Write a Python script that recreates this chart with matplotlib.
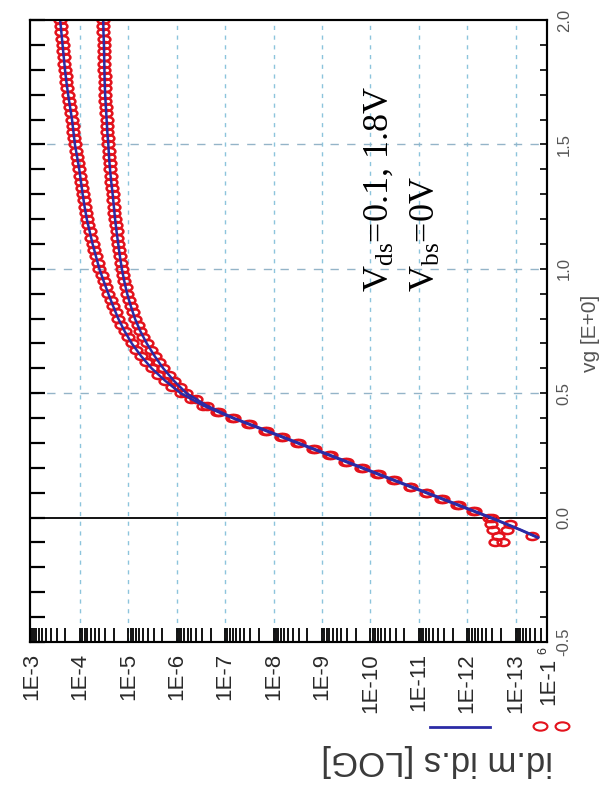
import matplotlib.pyplot as plt
import numpy as np
from matplotlib.lines import Line2D
from matplotlib.markers import MarkerStyle
from matplotlib.path import Path
from matplotlib.ticker import FixedLocator, FuncFormatter, MultipleLocator, NullFormatter
from matplotlib.transforms import Affine2D

W, H = 603, 787

# gate sweep of the measurement, V
vg_meas = np.round(np.arange(-0.1, 2.0001, 0.025), 3)

# measured log10(Id) at Vds = 1.8 V
logid_meas_18 = [
    -12.58, -12.64, -12.53, -12.49, -12.45, -12.13, -11.80, -11.47, -11.14, -10.81,
    -10.47, -10.14, -9.81, -9.48, -9.15, -8.81, -8.48, -8.15, -7.82, -7.48,
    -7.15, -6.84, -6.55, -6.30, -6.08, -5.91, -5.76, -5.61, -5.48, -5.37,
    -5.26, -5.16, -5.07, -4.99, -4.92, -4.85, -4.79, -4.735, -4.685, -4.635,
    -4.585, -4.54, -4.49, -4.445, -4.40, -4.365, -4.33, -4.295, -4.26, -4.23,
    -4.20, -4.17, -4.14, -4.117, -4.095, -4.075, -4.055, -4.037, -4.02, -4.002,
    -3.985, -3.962, -3.94, -3.917, -3.895, -3.88, -3.865, -3.85, -3.835, -3.815,
    -3.795, -3.775, -3.755, -3.737, -3.72, -3.705, -3.69, -3.677, -3.665, -3.652,
    -3.64, -3.627, -3.615, -3.602, -3.59,
]

# measured log10(Id) at Vds = 0.1 V
logid_meas_01 = [
    -12.74, -13.33, -12.82, -12.88, -12.52, -12.17, -11.84, -11.51, -11.18, -10.84,
    -10.51, -10.18, -9.85, -9.52, -9.19, -8.85, -8.52, -8.19, -7.86, -7.52,
    -7.18, -6.88, -6.62, -6.39, -6.20, -6.06, -5.94, -5.83, -5.72, -5.63,
    -5.54, -5.46, -5.38, -5.31, -5.245, -5.19, -5.135, -5.09, -5.05, -5.01,
    -4.975, -4.945, -4.915, -4.89, -4.865, -4.845, -4.825, -4.807, -4.79, -4.772,
    -4.755, -4.74, -4.725, -4.712, -4.70, -4.687, -4.675, -4.66, -4.645, -4.632,
    -4.62, -4.61, -4.60, -4.592, -4.585, -4.575, -4.565, -4.557, -4.55, -4.542,
    -4.535, -4.527, -4.52, -4.515, -4.51, -4.507, -4.505, -4.502, -4.50, -4.497,
    -4.495, -4.49, -4.485, -4.482, -4.48,
]

# model curves
vg_sim = [-0.08, -0.05, 0.0, 0.05, 0.1, 0.15, 0.2, 0.25, 0.3, 0.35, 0.4, 0.45, 0.5,
          0.55, 0.6, 0.65, 0.7, 0.75, 0.8, 0.85, 0.9, 0.95, 1.0, 1.05, 1.1, 1.15,
          1.2, 1.25, 1.3, 1.35, 1.4, 1.45, 1.5, 1.55, 1.6, 1.65, 1.7, 1.75, 1.8,
          1.85, 1.9, 1.95, 2.0]
logid_sim_18 = [-13.45, -13.10, -12.47, -11.80, -11.14, -10.47, -9.81, -9.15, -8.48,
                -7.82, -7.15, -6.55, -6.08, -5.76, -5.48, -5.26, -5.07, -4.92, -4.79,
                -4.685, -4.585, -4.49, -4.40, -4.33, -4.26, -4.20, -4.14, -4.095,
                -4.055, -4.02, -3.985, -3.94, -3.895, -3.865, -3.835, -3.795, -3.755,
                -3.72, -3.69, -3.665, -3.64, -3.615, -3.59]
logid_sim_01 = [-13.47, -13.12, -12.50, -11.84, -11.18, -10.51, -9.85, -9.19, -8.52,
                -7.86, -7.18, -6.62, -6.20, -5.94, -5.72, -5.54, -5.38, -5.245, -5.135,
                -5.05, -4.975, -4.915, -4.865, -4.825, -4.79, -4.755, -4.725, -4.70,
                -4.675, -4.645, -4.62, -4.60, -4.585, -4.565, -4.55, -4.535, -4.52,
                -4.51, -4.505, -4.50, -4.495, -4.485, -4.48]

decades = [-3, -4, -5, -6, -7, -8, -9, -10, -11, -12, -13]
vg_ticks = [-0.5, 0.0, 0.5, 1.0, 1.5, 2.0]
vg_labels = ['-0.5', '0.0', '0.5', '1.0', '1.5', '2.0']

RED = '#e3121c'
BLUE = '#2b2ba6'

plt.rcParams['font.family'] = ['Liberation Sans', 'DejaVu Sans']
plt.rcParams['mathtext.fontset'] = 'custom'
plt.rcParams['mathtext.rm'] = 'Liberation Serif'

# flattened open circle used for the measured points
ell = MarkerStyle(Path.unit_circle().transformed(Affine2D().scale(1.0, 0.6)))

fig = plt.figure(figsize=(W / 100, H / 100), dpi=100)
ax = fig.add_axes([30 / W, 145 / H, 517 / W, 622 / H])
ax.set_xscale('log')
ax.set_xlim(10 ** -2.967, 10 ** -13.65)
ax.set_ylim(-0.5, 2.0)

# grid
for d in decades[1:]:
    ax.axvline(10.0 ** d, color='#8cc4dc', lw=1.0, ls=(0, (3, 4)), zorder=1)
for v in (0.5, 1.0, 1.5):
    ax.axhline(v, color='#94b4c8', lw=1.0, ls=(0, (6, 6)), zorder=1)
ax.axhline(0.0, color='black', lw=1.3, zorder=2)

# measured points
for logid in (logid_meas_18, logid_meas_01):
    ax.plot(10.0 ** np.array(logid), vg_meas, ls='none', marker=ell, ms=8.5,
            mfc='none', mec=RED, mew=1.8, zorder=3)
# model
for logid in (logid_sim_18, logid_sim_01):
    ax.plot(10.0 ** np.array(logid), vg_sim, color=BLUE, lw=1.8, zorder=4)

# current axis (bottom)
ax.xaxis.set_major_locator(FixedLocator([10.0 ** d for d in decades]))
ax.xaxis.set_major_formatter(FuncFormatter(lambda v, p: f'1E{int(round(np.log10(v)))}'))
ax.xaxis.set_minor_locator(FixedLocator([k * 10.0 ** d for d in range(-14, -3) for k in range(2, 10)]))
ax.xaxis.set_minor_formatter(NullFormatter())
ax.tick_params(axis='x', which='both', direction='in', bottom=True, top=False,
               length=10, width=1.3, color='black')
ax.tick_params(axis='x', which='major', labelsize=16, labelrotation=90, pad=8,
               labelcolor='#2a2a2a')

# gate voltage axis: long ticks on the left, short ticks + labels on the right
ax.yaxis.set_major_locator(MultipleLocator(0.1))
ax.tick_params(axis='y', which='both', direction='in', left=True, right=False,
               length=11, width=1.6, labelleft=False)

ax2 = ax.twinx()
ax2.set_ylim(-0.5, 2.0)
ax2.set_yticks(vg_ticks)
ax2.set_yticklabels(vg_labels, rotation=90, va='center')
ax2.yaxis.set_minor_locator(MultipleLocator(0.1))
ax2.tick_params(axis='y', which='both', direction='in', length=5, width=1.2,
                labelsize=12, labelcolor='#555555', pad=7)

for a in (ax, ax2):
    for sp in a.spines.values():
        sp.set_linewidth(1.5)
        sp.set_color('black')

fig.text(590 / W, 1 - 333 / H, 'vg [E+0]', rotation=90, ha='center', va='center',
         fontsize=15, color='#555555')
fig.text(549 / W, 1 - 658 / H, '1E-1', rotation=90, ha='center', va='top',
         fontsize=16, color='#2a2a2a')
fig.text(543 / W, 1 - 651 / H, '6', rotation=90, ha='center', va='center',
         fontsize=9, color='#2a2a2a')

# bias conditions
fig.text(363 / W, 1 - 292 / H, r'$\mathrm{V_{ds}}$=0.1, 1.8V', rotation=90,
         ha='left', va='bottom', fontsize=26, family='Liberation Serif')
fig.text(410 / W, 1 - 292 / H, r'$\mathrm{V_{bs}}$=0V', rotation=90,
         ha='left', va='bottom', fontsize=26, family='Liberation Serif')

# legend marks and axis title
fig.add_artist(Line2D([430 / W, 490 / W], [1 - 727 / H] * 2, color=BLUE, lw=2))
for xm in (540, 562):
    fig.add_artist(Line2D([xm / W], [1 - 726 / H], ls='none', marker=ell, ms=10,
                          mfc='none', mec=RED, mew=1.5))
fig.text(437 / W, 1 - 760 / H, 'id.m id.s [LOG]', rotation=180, ha='center',
         va='center', fontsize=25, color='#3a3a3a')

fig.savefig('out.png', dpi=100)
